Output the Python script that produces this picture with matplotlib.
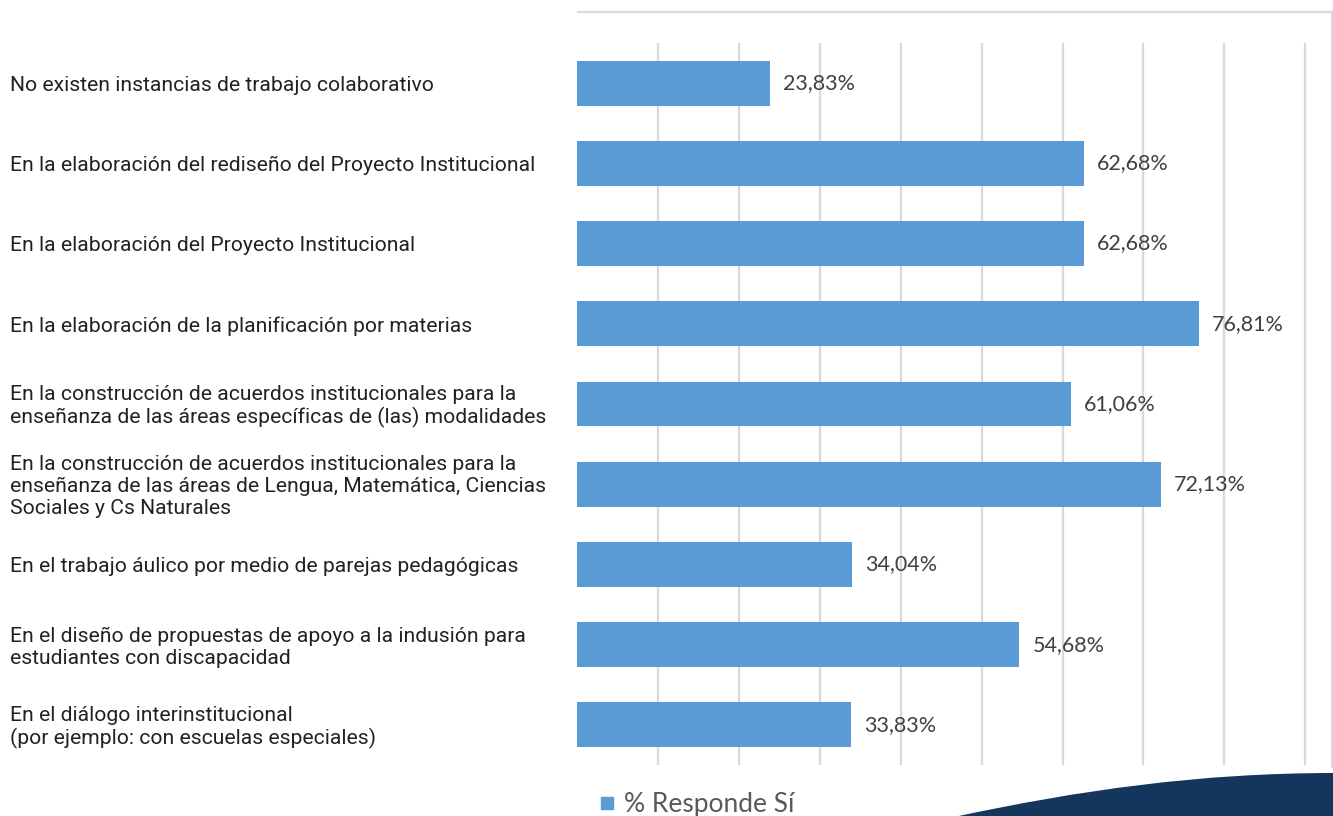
import numpy as np
import matplotlib
matplotlib.use('Agg')
import matplotlib.pyplot as plt
from matplotlib.lines import Line2D
from matplotlib.patches import PathPatch, Rectangle
from matplotlib.path import Path
from matplotlib.transforms import blended_transform_factory

# ── Data ──────────────────────────────────────────────────────────────────────
categories = [
    "No existen instancias de trabajo colaborativo",
    "En la elaboración del rediseño del Proyecto Institucional",
    "En la elaboración del Proyecto Institucional",
    "En la elaboración de la planificación por materias",
    "En la construcción de acuerdos institucionales para la\n"
    "enseñanza de las áreas específicas de (las) modalidades",
    "En la construcción de acuerdos institucionales para la\n"
    "enseñanza de las áreas de Lengua, Matemática, Ciencias\n"
    "Sociales y Cs Naturales",
    "En el trabajo áulico por medio de parejas pedagógicas",
    "En el diseño de propuestas de apoyo a la indusión para\n"
    "estudiantes con discapacidad",
    "En el diálogo interinstitucional\n"
    "(por ejemplo: con escuelas especiales)",
]
values = [23.83, 62.68, 62.68, 76.81, 61.06, 72.13, 34.04, 54.68, 33.83]
value_labels = ["23,83%", "62,68%", "62,68%", "76,81%", "61,06%",
                "72,13%", "34,04%", "54,68%", "33,83%"]
grid_ticks = [10, 20, 30, 40, 50, 60, 70, 80, 90]
legend_label = "% Responde Sí"

# ── Style ─────────────────────────────────────────────────────────────────────
C_BAR  = '#5b9bd5'
C_GRID = '#d9d9d9'
C_NAVY = '#14365e'
W, H = 1333, 816

fig = plt.figure(figsize=(W / 100, H / 100), dpi=100)
fig.patch.set_facecolor('white')


def fx(px):
    return px / W


def fy(py):
    return 1 - py / H


# plot area: x 577..1332 px, y 43..765 px
ax = fig.add_axes([fx(577), fy(765), fx(1332) - fx(577), fy(43) - fy(765)])
y = np.arange(len(values))
ax.barh(y, values, height=0.56, color=C_BAR, zorder=3)
ax.set_xlim(0, 93.3)
ax.set_ylim(len(values) - 0.5, -0.5)
ax.set_xticks(grid_ticks)
ax.set_yticks([])
ax.tick_params(axis='x', length=0, labelbottom=False)
ax.grid(axis='x', color=C_GRID, lw=1.6, zorder=0)
for s in ax.spines.values():
    s.set_visible(False)

for yi, v, lab in zip(y, values, value_labels):
    ax.text(v + 1.6, yi, lab, va='center', ha='left', fontsize=15.5,
            family='Lato', color='#404040')

# category labels on the left
tr = blended_transform_factory(fig.transFigure, ax.transData)
for yi, cat in zip(y, categories):
    ax.text(fx(10), yi + 0.03, cat, transform=tr, ha='left', va='center',
            fontsize=15.2, family='Roboto', color='#222222', linespacing=1.2)

# chart frame (top and right edges)
fig.add_artist(Line2D([fx(578), fx(1332)], [fy(12), fy(12)], color=C_GRID, lw=1.6))
fig.add_artist(Line2D([fx(1332), fx(1332)], [fy(12), fy(767)], color=C_GRID, lw=1.6))

# legend
fig.add_artist(Rectangle((fx(601), fy(809)), fx(12), 12 / H, color=C_BAR,
                         transform=fig.transFigure))
fig.text(fx(624), fy(812), legend_label, ha='left', va='baseline',
         fontsize=19, family='Lato', color='#595959')

# navy decoration in the bottom-right corner
verts = [(954, 817), (1080, 790), (1200, 773), (1334, 773),
         (1334, 817), (954, 817)]
codes = [Path.MOVETO, Path.CURVE4, Path.CURVE4, Path.CURVE4,
         Path.LINETO, Path.CLOSEPOLY]
path = Path([(fx(a), fy(b)) for a, b in verts], codes)
fig.add_artist(PathPatch(path, facecolor=C_NAVY, edgecolor='none',
                         transform=fig.transFigure))

fig.savefig('out.png', dpi=100)
